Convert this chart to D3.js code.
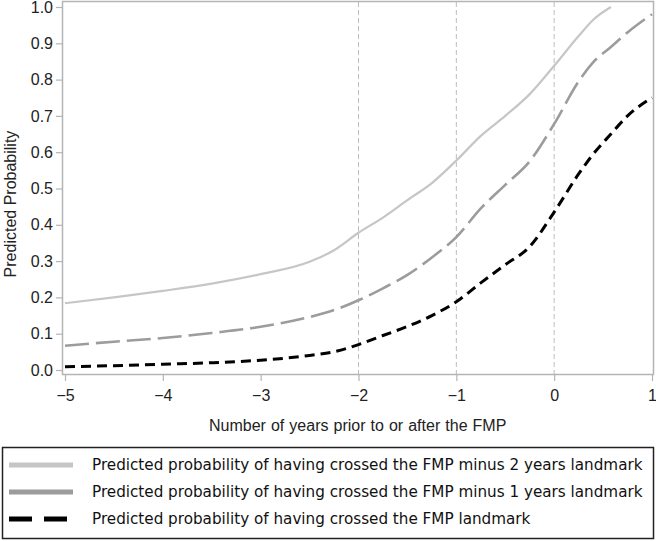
<!DOCTYPE html>
<html>
<head>
<meta charset="utf-8">
<script src="https://cdn.jsdelivr.net/npm/d3@7"></script>
<style>
    body { margin: 0; background: #fff; }
    #chart svg { display: block; }
</style>
</head>
<body>
<div id="chart"></div>
<script>
// years relative to the FMP
const years = [-5, -4.5, -4, -3.5, -3, -2.5, -2.25, -2, -1.75, -1.5, -1.25, -1, -0.75, -0.5, -0.25, 0, 0.25, 0.4, 0.58, 0.75, 1]

// predicted probabilities (null = no value)
const minus2Years = [0.184, 0.200, 0.218, 0.238, 0.264, 0.298, 0.330, 0.378, 0.420, 0.468, 0.515, 0.577, 0.645, 0.700, 0.760, 0.838, 0.920, 0.965, 1.000, null, null]
const minus1Years = [0.067, 0.078, 0.088, 0.102, 0.119, 0.146, 0.165, 0.192, 0.225, 0.262, 0.310, 0.366, 0.445, 0.510, 0.575, 0.678, 0.795, 0.848, 0.890, 0.930, 0.980]
const fmpLandmark = [0.009, 0.012, 0.016, 0.020, 0.027, 0.040, 0.050, 0.070, 0.095, 0.120, 0.150, 0.188, 0.240, 0.290, 0.340, 0.435, 0.540, 0.595, 0.650, 0.700, 0.750]

const xTicks = [-5, -4, -3, -2, -1, 0, 1]
const yTicks = [0, 0.1, 0.2, 0.3, 0.4, 0.5, 0.6, 0.7, 0.8, 0.9, 1.0]
const refLines = [-2, -1, 0]

const seriesNames = [
    'Predicted probability of having crossed the FMP minus 2 years landmark',
    'Predicted probability of having crossed the FMP minus 1 years landmark',
    'Predicted probability of having crossed the FMP landmark'
]

document.addEventListener('DOMContentLoaded', (event) => {
    const width = 656
    const height = 541

    const svg = d3.select('#chart')
        .append('svg')
        .attr('width', width)
        .attr('height', height)
        .attr('viewBox', [0, 0, width, height]);

    const xScale = d3.scaleLinear().domain([-5, 1]).range([65, 652]);
    const yScale = d3.scaleLinear().domain([0, 1]).range([370, 7]);

    const axisFont = '"Liberation Sans", Arial, sans-serif'
    const axisColour = '#b4b4b4'

    // frame
    svg.append('rect')
        .attr('x', 62.5)
        .attr('y', 1.5)
        .attr('width', 591)
        .attr('height', 373)
        .attr('fill', 'none')
        .attr('stroke', axisColour)
        .attr('stroke-width', 1.5);

    // reference lines
    svg.append('g')
        .selectAll('line')
        .data(refLines)
        .enter()
        .append('line')
        .attr('x1', d => xScale(d))
        .attr('x2', d => xScale(d))
        .attr('y1', 2)
        .attr('y2', 374)
        .attr('stroke', '#bcbcbc')
        .attr('stroke-width', 1)
        .attr('stroke-dasharray', '5,3');

    // x axis
    const xAxis = svg.append('g')
        .attr('transform', 'translate(0, 375)')
        .call(d3.axisBottom(xScale).tickValues(xTicks).tickFormat(d3.format('d')).tickSize(6).tickSizeOuter(0).tickPadding(9));
    xAxis.select('.domain').remove();
    xAxis.selectAll('line').attr('stroke', axisColour).attr('stroke-width', 1.2);
    xAxis.selectAll('text')
        .attr('font-family', axisFont)
        .attr('font-size', 16)
        .attr('fill', '#222');

    // y axis
    const yAxis = svg.append('g')
        .attr('transform', 'translate(62, 0)')
        .call(d3.axisLeft(yScale).tickValues(yTicks).tickFormat(d3.format('.1f')).tickSize(6).tickSizeOuter(0).tickPadding(3));
    yAxis.select('.domain').remove();
    yAxis.selectAll('line').attr('stroke', axisColour).attr('stroke-width', 1.2);
    yAxis.selectAll('text')
        .attr('font-family', axisFont)
        .attr('font-size', 16)
        .attr('fill', '#222');

    // axis titles
    svg.append('text')
        .attr('x', 209)
        .attr('y', 431)
        .attr('font-family', axisFont)
        .attr('font-size', 16)
        .attr('word-spacing', 0.6)
        .attr('fill', '#222')
        .text('Number of years prior to or after the FMP');

    svg.append('text')
        .attr('transform', 'translate(16, 204) rotate(-90)')
        .attr('text-anchor', 'middle')
        .attr('font-family', axisFont)
        .attr('font-size', 16)
        .attr('fill', '#222')
        .text('Predicted Probability');

    // curves
    const series = [
        { name: seriesNames[0], values: minus2Years, colour: '#c6c6c6', width: 2.2, dash: null, legendDash: null },
        { name: seriesNames[1], values: minus1Years, colour: '#9c9c9c', width: 2.6, dash: '24,7', legendDash: null },
        { name: seriesNames[2], values: fmpLandmark, colour: '#000000', width: 3, dash: '10,6', legendDash: '23,12' }
    ];

    const line = d3.line()
        .defined(d => d.v !== null)
        .x(d => xScale(d.t))
        .y(d => yScale(d.v))
        .curve(d3.curveMonotoneX);

    svg.append('g')
        .selectAll('path')
        .data(series)
        .enter()
        .append('path')
        .attr('fill', 'none')
        .attr('stroke', d => d.colour)
        .attr('stroke-width', d => d.width)
        .attr('stroke-dasharray', d => d.dash)
        .attr('d', d => line(years.map((t, i) => ({ t: t, v: d.values[i] }))));

    // legend
    svg.append('rect')
        .attr('x', 2.5)
        .attr('y', 447.5)
        .attr('width', 651)
        .attr('height', 91)
        .attr('fill', 'none')
        .attr('stroke', '#222')
        .attr('stroke-width', 1.5);

    const legend = svg.selectAll('.legend')
        .data(series)
        .enter()
        .append('g')
        .attr('class', 'legend')
        .attr('transform', (d, i) => `translate(0, ${465 + i * 27})`);

    legend.append('line')
        .attr('x1', 9)
        .attr('x2', 73)
        .attr('stroke', d => d.colour)
        .attr('stroke-width', 5)
        .attr('stroke-dasharray', d => d.legendDash);

    legend.append('text')
        .attr('x', 92)
        .attr('dy', '0.36em')
        .attr('font-family', '"DejaVu Sans", Verdana, sans-serif')
        .attr('font-size', 15.2)
        .attr('fill', '#111')
        .text(d => d.name);
});
</script>
</body>
</html>
